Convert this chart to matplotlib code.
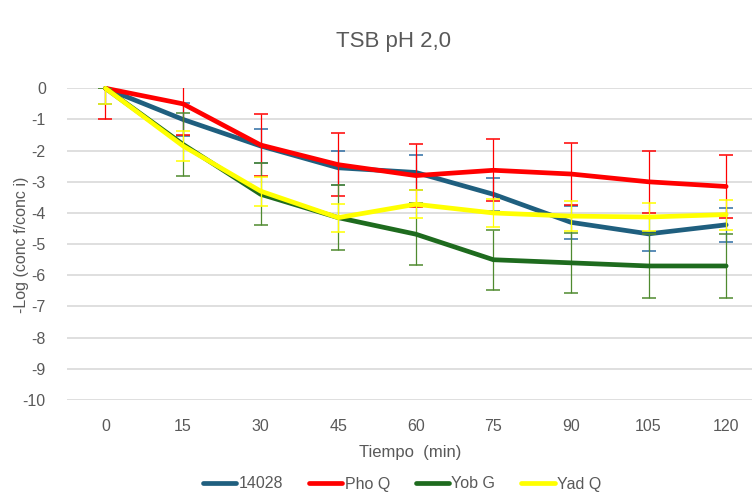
import numpy as np
import matplotlib
matplotlib.use("Agg")
import matplotlib.pyplot as plt

# Data
tiempo = [0, 15, 30, 45, 60, 75, 90, 105, 120]

c14028 = [0, -1.0, -1.85, -2.55, -2.7, -3.4, -4.3, -4.67, -4.38]
err_14028 = [0.5, 0.53, 0.55, 0.55, 0.55, 0.53, 0.53, 0.55, 0.55]

phoq = [0, -0.5, -1.82, -2.45, -2.8, -2.63, -2.75, -3.0, -3.15]
err_phoq = [1.0, 1.0, 1.0, 1.0, 1.0, 1.0, 1.0, 1.0, 1.0]

yobg = [0, -1.8, -3.4, -4.15, -4.68, -5.5, -5.6, -5.7, -5.7]
err_yobg = [0.0, 1.0, 1.0, 1.05, 1.0, 0.97, 0.97, 1.02, 1.02]

yadq = [0, -1.85, -3.3, -4.15, -3.72, -4.0, -4.1, -4.13, -4.05]
err_yadq = [0.5, 0.48, 0.47, 0.45, 0.45, 0.45, 0.48, 0.45, 0.48]

series = [
    ("14028", c14028, err_14028, "#1f5f7f", "#2e6da4"),
    ("Pho Q", phoq, err_phoq, "#ff0000", "#ff0000"),
    ("Yob G", yobg, err_yobg, "#1e6b1e", "#4f8a2f"),
    ("Yad Q", yadq, err_yadq, "#ffff00", "#ffff00"),
]

txt = "#595959"
plt.rcParams['font.family'] = ['Liberation Sans', 'DejaVu Sans']
plt.rcParams['axes.unicode_minus'] = False

fig = plt.figure(figsize=(7.52, 4.93), dpi=100)
ax = fig.add_axes([66.7 / 752, 93 / 493, 1 - 66.7 / 752, (400 - 88.3) / 493])

for name, vals, err, col, ecol in series:
    ax.errorbar(tiempo, vals, yerr=err, fmt="none", ecolor=ecol,
                elinewidth=0.9, capsize=5, capthick=1.1)
    ax.plot(tiempo, vals, color=col, lw=3.4, label=name, clip_on=False,
            solid_joinstyle="round", solid_capstyle="round")

ax.set_ylim(-10, 0)
ax.set_xlim(-7.5, 125)
ax.set_yticks(np.arange(-10, 1, 1))
ax.set_xticks(tiempo)
ax.set_xticklabels([str(t) for t in tiempo])
ax.grid(axis="y", color="#d9d9d9", lw=1.2)
ax.set_axisbelow(True)
for s in ax.spines.values():
    s.set_visible(False)
ax.tick_params(length=0, labelsize=11.5, colors=txt)
ax.tick_params(axis="x", pad=14)
ax.tick_params(axis="y", pad=15)

fig.text(22 / 752, 1 - 245 / 493, "-Log (conc f/conc i)", ha="center", va="center",
         rotation=90, fontsize=11.5, color=txt)
fig.text(410 / 752, 1 - 453 / 493, "Tiempo  (min)", ha="center", va="center",
         fontsize=12, color=txt)
fig.text(394 / 752, 1 - 41 / 493, "TSB pH 2,0", ha="center", va="center",
         fontsize=16, color=txt)

ax.legend(loc="center", bbox_to_anchor=(402 / 752, 1 - 484 / 493),
          bbox_transform=fig.transFigure, ncol=4, frameon=False,
          fontsize=11.5, labelcolor=txt, handlelength=2.1, handletextpad=0.15,
          columnspacing=1.6)

fig.savefig("out.png", dpi=100)
